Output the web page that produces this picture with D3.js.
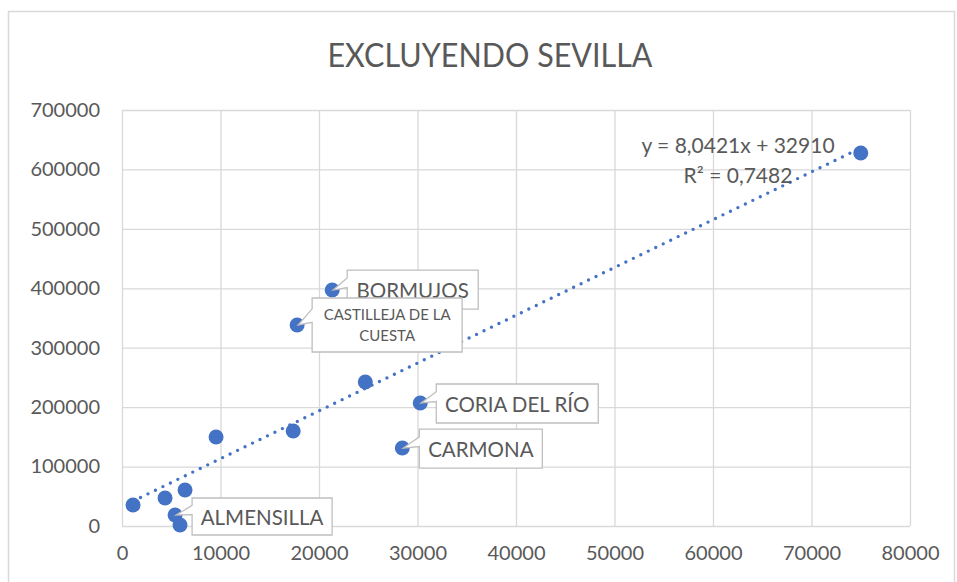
<!DOCTYPE html>
<html>
<head>
<meta charset="utf-8">
<script src="https://cdn.jsdelivr.net/npm/d3@7"></script>
<style>
  html, body { margin: 0; padding: 0; background: #ffffff; }
  svg { display: block; font-family: Lato, "Open Sans", sans-serif; }
</style>
</head>
<body>
<svg id="chart" width="957" height="582"></svg>
<script>
// ---------- DATA ----------
const chartTitle = "EXCLUYENDO SEVILLA";
const xValues = [1120, 4370, 6400, 5390, 5890, 9550, 17380, 17780, 21340, 24700, 30280, 28460, 75000];
const yValues = [35300, 47100, 60600, 18500, 1700, 149800, 159900, 338200, 397000, 242300, 207000, 131200, 627600];
const pointNames = ["", "", "", "ALMENSILLA", "", "", "", "CASTILLEJA DE LA CUESTA", "BORMUJOS", "", "CORIA DEL RÍO", "CARMONA", ""];
const xTicks = [0, 10000, 20000, 30000, 40000, 50000, 60000, 70000, 80000];
const yTicks = [0, 100000, 200000, 300000, 400000, 500000, 600000, 700000];
const trendSlope = 8.0421;
const trendIntercept = 32910;
const trendLines = ["y = 8,0421x + 32910", "R² = 0,7482"];
// draw order of labels (later ones on top)
const labelOrder = ["BORMUJOS", "CASTILLEJA DE LA CUESTA", "CORIA DEL RÍO", "CARMONA", "ALMENSILLA"];

// ---------- LAYOUT / STYLE ----------
const labelLayout = {
  "BORMUJOS":                {dx: 15, dy: -20, w: 131, h: 39, fs: 20.5, lines: ["BORMUJOS"]},
  "CASTILLEJA DE LA CUESTA": {dx: 15, dy: -27, w: 150, h: 54, fs: 15, lines: ["CASTILLEJA DE LA", "CUESTA"]},
  "CORIA DEL RÍO":           {dx: 16, dy: -19, w: 162, h: 39, fs: 20.5, lines: ["CORIA DEL RÍO"]},
  "CARMONA":                 {dx: 17, dy: -19, w: 123, h: 39, fs: 20.5, lines: ["CARMONA"]},
  "ALMENSILLA":              {dx: 17, dy: -17, w: 140, h: 37, fs: 20.5, lines: ["ALMENSILLA"]}
};
const textColor = "#595959";
const gridColor = "#d9d9d9";
const dotColor = "#4472C4";

const svg = d3.select("#chart");
const plot = {left: 122, right: 910, top: 110, bottom: 526};

const x = d3.scaleLinear().domain([0, 80000]).range([plot.left, plot.right]);
const y = d3.scaleLinear().domain([0, 700000]).range([plot.bottom, plot.top]);

// background + chart border
svg.append("rect").attr("x", 0).attr("y", 0).attr("width", 957).attr("height", 582).attr("fill", "#fff");
svg.append("rect").attr("x", 8.5).attr("y", 11.5).attr("width", 946).attr("height", 600)
  .attr("fill", "none").attr("stroke", gridColor).attr("stroke-width", 1.5);

// title
svg.append("text")
  .attr("x", 490).attr("y", 67)
  .attr("text-anchor", "middle")
  .attr("fill", textColor)
  .attr("font-size", 32)
  .attr("font-weight", 400)
  .attr("textLength", 325).attr("lengthAdjust", "spacingAndGlyphs")
  .text(chartTitle);

// gridlines via axes
const gx = svg.append("g").attr("transform", `translate(0,${plot.bottom})`)
  .call(d3.axisBottom(x).tickValues(xTicks).tickSize(-(plot.bottom - plot.top)).tickFormat(d => d).tickPadding(20));
const gy = svg.append("g").attr("transform", `translate(${plot.left},0)`)
  .call(d3.axisLeft(y).tickValues(yTicks).tickSize(-(plot.right - plot.left)).tickFormat(d => d).tickPadding(22));

[gx, gy].forEach(g => {
  g.select(".domain").remove();
  g.selectAll(".tick line").attr("stroke", gridColor).attr("stroke-width", 1.3);
  g.selectAll(".tick text").attr("fill", textColor).attr("font-size", 20)
    .attr("font-family", "Lato, 'Open Sans', sans-serif");
});
gx.selectAll(".tick text").attr("dy", "0.71em");

// trendline
const xMin = d3.min(xValues), xMax = d3.max(xValues);
svg.append("line")
  .attr("x1", x(xMin)).attr("y1", y(trendSlope * xMin + trendIntercept))
  .attr("x2", x(xMax)).attr("y2", y(trendSlope * xMax + trendIntercept))
  .attr("stroke", dotColor).attr("stroke-width", 3.4)
  .attr("stroke-linecap", "round").attr("stroke-dasharray", "0 8.3");

// points
const pts = xValues.map((v, i) => ({x: v, y: yValues[i], name: pointNames[i]}));
svg.append("g").selectAll("circle").data(pts).join("circle")
  .attr("cx", d => x(d.x)).attr("cy", d => y(d.y)).attr("r", 7.5)
  .attr("fill", dotColor);

// trend equation
svg.append("g").selectAll("text").data(trendLines).join("text")
  .attr("x", 738).attr("y", (d, i) => 153 + i * 30)
  .attr("text-anchor", "middle").attr("fill", textColor).attr("font-size", 21)
  .text(d => d);

// callout labels
const lg = svg.append("g");
labelOrder.forEach(name => {
  const p = pts.find(d => d.name === name);
  const L = labelLayout[name];
  const px = x(p.x), py = y(p.y);
  const bx = px + L.dx, by = py + L.dy, bw = L.w, bh = L.h;
  const path = `M${bx},${by} H${bx + bw} V${by + bh} H${bx} V${by + bh * 0.45} L${px + 1},${py} L${bx},${by + bh * 0.2} Z`;
  lg.append("path").attr("d", path).attr("fill", "#fff").attr("stroke", "#bfbfbf").attr("stroke-width", 1.3);
  const n = L.lines.length;
  const lh = L.fs * 1.45;
  L.lines.forEach((t, i) => {
    const cy = by + bh / 2 + (i - (n - 1) / 2) * lh + (n === 1 ? 1.5 : 0);
    lg.append("text")
      .attr("x", bx + bw / 2).attr("y", cy + L.fs * 0.36)
      .attr("text-anchor", "middle").attr("fill", textColor).attr("font-size", L.fs)
      .text(t);
  });
});
</script>
</body>
</html>
